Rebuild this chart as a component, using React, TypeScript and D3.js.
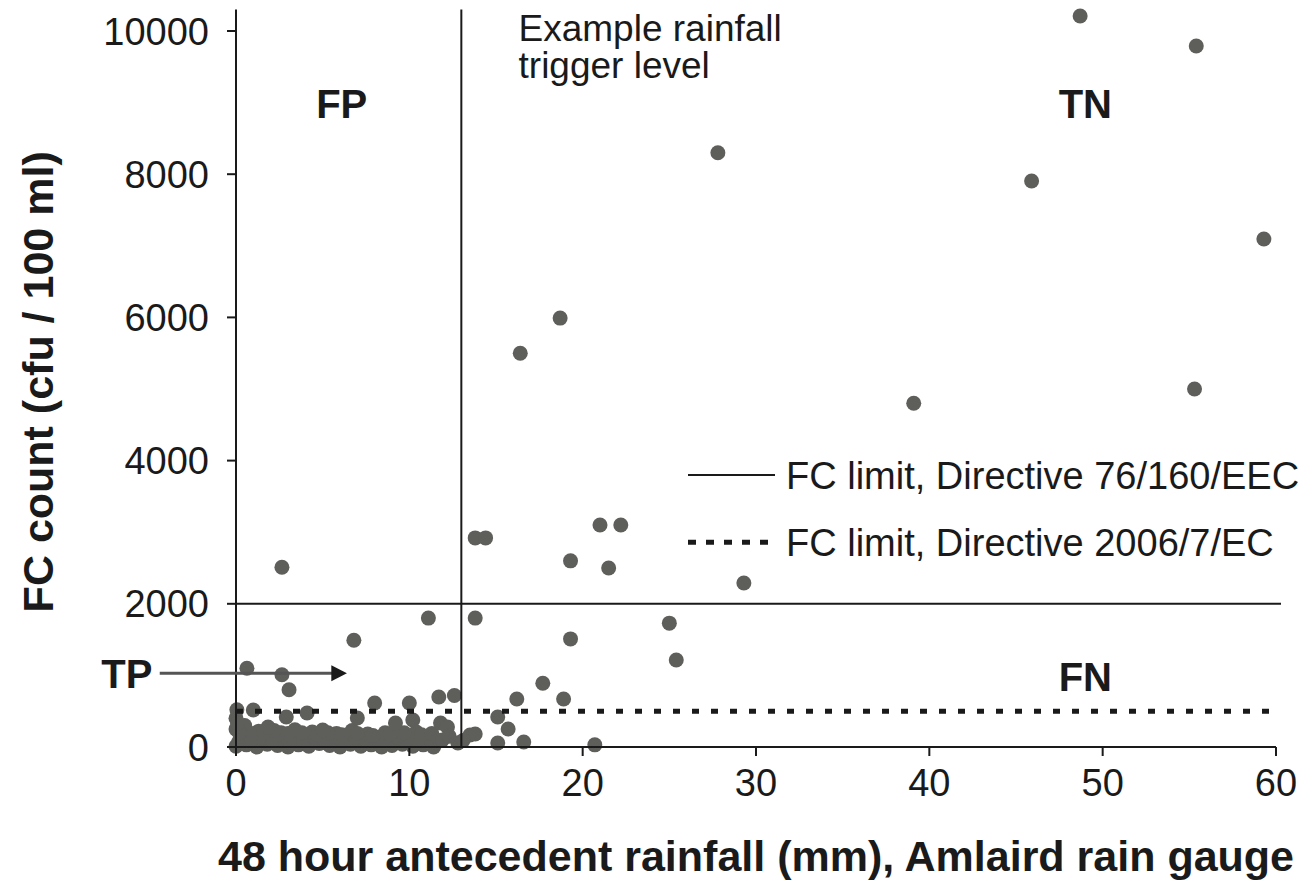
import React from "react";
import * as d3 from "d3";

const W = 1312;
const H = 895;

// Scattered (isolated) samples: [rainfall mm, FC count]
const scatterPoints: [number, number][] = [
  [48.7, 10210], [55.4, 9790], [27.8, 8300], [45.9, 7905], [59.3, 7095],
  [18.7, 5990], [16.4, 5500], [55.3, 5000], [39.1, 4800],
  [2.65, 2510], [13.8, 2920], [14.4, 2920], [21.0, 3100], [22.2, 3100],
  [19.3, 2600], [21.5, 2500], [29.3, 2290],
  [11.1, 1800], [13.8, 1800], [6.8, 1490], [19.3, 1510], [25.0, 1730], [25.4, 1215],
  [0.63, 1100], [2.65, 1010], [3.06, 800], [17.7, 890], [16.2, 670], [18.9, 670], [20.7, 30],
];

// Points near the lower limit
const lowPoints: [number, number][] = [
  [0, 400], [0.05, 520], [0.1, 330], [1.0, 517], [2.9, 419], [4.1, 475], [7.0, 405],
  [8.0, 615], [9.2, 335], [10.0, 615], [10.2, 377], [11.7, 698], [11.8, 335], [12.6, 720],
  [12.2, 279], [11.9, 98], [12.8, 56], [13.5, 168], [13.8, 182], [15.1, 419], [15.7, 251],
  [15.1, 56], [16.6, 70], [1.85, 279], [5.0, 237], [12.3, 150], [13.1, 90],
];

// Dense cluster near the origin
const clusterPoints: [number, number][] = [
  [0, 10], [0.6, 30], [1.2, 0], [1.8, 40], [2.4, 20], [3.0, 0], [3.6, 30], [4.2, 10],
  [4.8, 50], [5.4, 20], [6.0, 0], [6.6, 40], [7.2, 10], [7.8, 30], [8.4, 0], [9.0, 20],
  [9.6, 40], [10.2, 10], [10.8, 30], [11.4, 0],
  [0.15, 70], [0.75, 80], [1.35, 60], [1.95, 70], [2.55, 80], [3.15, 60], [3.75, 70],
  [4.35, 80], [4.95, 60], [5.55, 70], [6.15, 80], [6.75, 60], [7.35, 70], [7.95, 80],
  [8.55, 60], [9.15, 70], [9.75, 80], [10.35, 60], [10.95, 70], [11.55, 60],
  [0.3, 150], [0.9, 110], [1.5, 130], [2.1, 90], [2.7, 160], [3.3, 120], [3.9, 100],
  [4.5, 140], [5.1, 110], [5.7, 150], [6.3, 90], [6.9, 130], [7.5, 100], [8.1, 120],
  [8.7, 90], [9.3, 140], [9.9, 110], [10.5, 100], [11.1, 130],
  [0, 250], [0.5, 300], [1.3, 220], [2.6, 200], [3.4, 240], [4.4, 210],
  [5.8, 190], [6.7, 230], [7.6, 180], [8.6, 200], [9.4, 170], [10.4, 210],
  [0.2, 200], [1.0, 190], [1.6, 210], [2.2, 230], [3.0, 190], [3.8, 200], [4.7, 180],
  [5.3, 200], [6.1, 170], [7.0, 190], [7.9, 160], [8.9, 180], [9.7, 200], [10.7, 170], [11.3, 190],
];

const xTicks = [0, 10, 20, 30, 40, 50, 60];
const yTicks = [0, 2000, 4000, 6000, 8000, 10000];

const directive1976Limit = 2000;
const directive2006Limit = 500;
const triggerLevel = 13;

const quadrantLabels: { text: string; x: number; y: number }[] = [
  { text: "FP", x: 6.1, y: 8980 },
  { text: "TN", x: 49.0, y: 8980 },
  { text: "TP", x: -6.3, y: 1030 },
  { text: "FN", x: 49.0, y: 990 },
];

const legendItems = [
  { label: "FC limit, Directive 76/160/EEC", dashed: false, y: 3800 },
  { label: "FC limit, Directive 2006/7/EC", dashed: true, y: 2860 },
];

const FONT = "'Liberation Sans', Arial, Helvetica, sans-serif";

export default function App() {
  const x = d3.scaleLinear().domain([0, 60]).range([236, 1276]);
  const y = d3.scaleLinear().domain([0, 10000]).range([747, 31]);
  const yTop = 10300;
  const dot = "#5e5f5a";
  const ink = "#1a1a1a";

  const allPoints = [...clusterPoints, ...lowPoints, ...scatterPoints];

  return (
    <svg
      width={W}
      height={H}
      style={{ position: "absolute", left: 0, top: 0, background: "#fff" }}
      fontFamily={FONT}
    >
      {/* points */}
      <g fill={dot}>
        {allPoints.map(([a, b], i) => (
          <circle key={i} cx={x(a)} cy={y(b)} r={7.5} />
        ))}
      </g>

      {/* limit lines */}
      <line x1={x(0)} x2={x(60) + 5} y1={y(directive1976Limit)} y2={y(directive1976Limit)} stroke={ink} strokeWidth={2} />
      <line
        x1={x(0)}
        x2={x(60) + 5}
        y1={y(directive2006Limit)}
        y2={y(directive2006Limit)}
        stroke={ink}
        strokeWidth={5}
        strokeDasharray="7 12"
      />

      {/* trigger line */}
      <line x1={x(triggerLevel)} x2={x(triggerLevel)} y1={y(yTop)} y2={y(0)} stroke={ink} strokeWidth={2} />

      {/* axes */}
      <line x1={x(0)} x2={x(0)} y1={y(yTop)} y2={y(0)} stroke={ink} strokeWidth={2} />
      <line x1={x(0)} x2={x(60)} y1={y(0)} y2={y(0)} stroke={ink} strokeWidth={2} />
      {yTicks.map((t) => (
        <g key={"y" + t}>
          <line x1={x(0) - 9} x2={x(0)} y1={y(t)} y2={y(t)} stroke={ink} strokeWidth={2} />
          <text x={x(0) - 27} y={y(t)} dy="0.36em" textAnchor="end" fontSize={38} fill={ink}>
            {t}
          </text>
        </g>
      ))}
      {xTicks.map((t) => (
        <g key={"x" + t}>
          <line x1={x(t)} x2={x(t)} y1={y(0)} y2={y(0) + 9} stroke={ink} strokeWidth={2} />
          <text x={x(t)} y={782} dy="0.36em" textAnchor="middle" fontSize={38} fill={ink}>
            {t}
          </text>
        </g>
      ))}

      {/* axis titles */}
      <text x={(x(0) + x(60)) / 2} y={856} dy="0.36em" textAnchor="middle" fontSize={43} fontWeight="bold" fill={ink}>
        48 hour antecedent rainfall (mm), Amlaird rain gauge
      </text>
      <text
        transform={`translate(38, ${y(5100)}) rotate(-90)`}
        dy="0.36em"
        textAnchor="middle"
        fontSize={43}
        fontWeight="bold"
        fill={ink}
      >
        FC count (cfu / 100 ml)
      </text>

      {/* trigger annotation */}
      <text x={x(16.3)} y={y(10040)} dy="0.36em" fontSize={37} fill={ink}>
        Example rainfall
      </text>
      <text x={x(16.3)} y={y(9530)} dy="0.36em" fontSize={37} fill={ink}>
        trigger level
      </text>

      {/* quadrant labels */}
      {quadrantLabels.map((q) => (
        <text key={q.text} x={x(q.x)} y={y(q.y)} dy="0.36em" textAnchor="middle" fontSize={40} fontWeight="bold" fill={ink}>
          {q.text}
        </text>
      ))}

      {/* TP arrow */}
      <line x1={x(-4.4)} x2={x(5.6)} y1={y(1030)} y2={y(1030)} stroke="#555" strokeWidth={3} />
      <path
        d={`M${x(6.4)},${y(1030)} L${x(5.5)},${y(1030) - 8} L${x(5.5)},${y(1030) + 8} Z`}
        fill={ink}
      />

      {/* legend */}
      {legendItems.map((l) => (
        <g key={l.label}>
          <line
            x1={688}
            x2={775}
            y1={y(l.y)}
            y2={y(l.y)}
            stroke={ink}
            strokeWidth={l.dashed ? 5 : 2}
            strokeDasharray={l.dashed ? "8 10" : undefined}
          />
          <text x={786} y={y(l.y)} dy="0.36em" fontSize={38} fill={ink}>
            {l.label}
          </text>
        </g>
      ))}
    </svg>
  );
}
